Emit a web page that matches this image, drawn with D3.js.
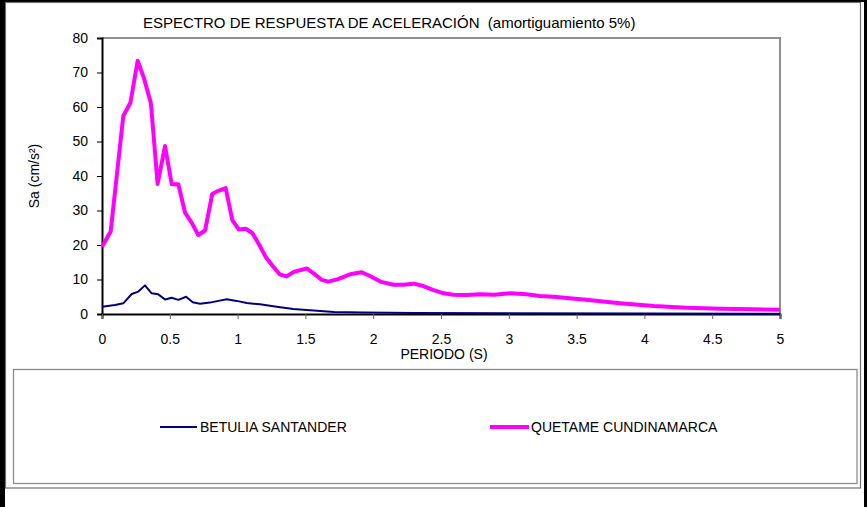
<!DOCTYPE html>
<html><head><meta charset="utf-8">
<script src="https://cdn.jsdelivr.net/npm/d3@7"></script>
<style>html,body{margin:0;padding:0;background:#fff;}svg{display:block;font-family:"Liberation Sans",Arial,sans-serif;}</style>
</head><body>
<script>
const titleText = "ESPECTRO DE RESPUESTA DE ACELERACIÓN  (amortiguamiento 5%)";
const xLabel = "PERIODO (S)";
const yLabel = "Sa (cm/s²)";
const seriesNames = ["BETULIA SANTANDER", "QUETAME CUNDINAMARCA"];
const xTicks = [0, 0.5, 1, 1.5, 2, 2.5, 3, 3.5, 4, 4.5, 5];
const yTicks = [0, 10, 20, 30, 40, 50, 60, 70, 80];

const betuliaPeriod = [0,0.096,0.157,0.219,0.268,0.317,0.366,0.415,0.465,0.514,0.563,0.62,0.669,0.723,0.796,0.858,0.92,0.993,1.067,1.165,1.288,1.41,1.56,1.71,1.93,2.3,3,4,5];
const betuliaSa    = [2.1,2.6,3.1,5.8,6.5,8.3,6,5.7,4.2,4.7,4.1,5,3.4,3,3.3,3.8,4.3,3.8,3.2,2.8,2.1,1.45,1.0,0.6,0.45,0.3,0.2,0.12,0.08];

const quetamePeriod = [0,0.064,0.157,0.21,0.263,0.31,0.361,0.41,0.465,0.514,0.563,0.612,0.661,0.71,0.76,0.813,0.858,0.912,0.961,1.01,1.06,1.11,1.16,1.21,1.263,1.31,1.36,1.42,1.51,1.56,1.62,1.67,1.74,1.83,1.915,1.976,2.06,2.15,2.22,2.3,2.37,2.44,2.52,2.59,2.69,2.79,2.89,3.01,3.13,3.23,3.33,3.57,3.82,4.07,4.31,4.56,4.8,5];
const quetameSa    = [19.5,23.9,57.4,61.3,73.4,68.3,61,37.7,48.7,37.6,37.6,29.4,26.5,22.9,24.2,34.8,35.7,36.5,27.2,24.5,24.7,23.4,20,16.4,13.7,11.5,10.9,12.3,13.2,11.8,9.9,9.4,10.1,11.5,12.1,11,9.3,8.5,8.5,8.8,8.1,7,6,5.6,5.5,5.7,5.6,6,5.7,5.2,5.0,4.1,3.1,2.3,1.8,1.5,1.35,1.2];

const W = 867, H = 507;
const svg = d3.select("body").append("svg").attr("width", W).attr("height", H);

// outer frame
svg.append("rect").attr("x",0).attr("y",0).attr("width",W).attr("height",H).attr("fill","#fff");
svg.append("rect").attr("x",0).attr("y",0).attr("width",5).attr("height",H).attr("fill","#000");
svg.append("rect").attr("x",864).attr("y",0).attr("width",3).attr("height",H).attr("fill","#000");
svg.append("rect").attr("x",0).attr("y",0).attr("width",W).attr("height",2).attr("fill","#000");
svg.append("rect").attr("x",5.5).attr("y",2.5).attr("width",855).attr("height",485.5)
  .attr("fill","none").attr("stroke","#707070").attr("stroke-width",1.2);

// legend box
svg.append("rect").attr("x",13.5).attr("y",369.5).attr("width",843.5).attr("height",114)
  .attr("fill","none").attr("stroke","#8c8c8c").attr("stroke-width",1.3);

const pL = 102, pR = 780, pT = 38, pB = 314;
const x = d3.scaleLinear().domain([0,5]).range([pL,pR]);
const y = d3.scaleLinear().domain([0,80]).range([pB,pT]);

// plot border (top, right)
svg.append("path").attr("d",`M${pL},${pT}H${pR}V${pB}`).attr("fill","none")
  .attr("stroke","#909090").attr("stroke-width",2);

const fs = 14;
// y axis
const yAxis = svg.append("g").attr("transform",`translate(${pL},0)`)
  .call(d3.axisLeft(y).tickValues(yTicks).tickSize(5).tickPadding(9).tickFormat(d3.format("d")));
yAxis.select(".domain").attr("stroke","#000").attr("stroke-width",2);
yAxis.selectAll(".tick line").attr("stroke","#000");
yAxis.selectAll("text").attr("font-size",fs).attr("font-family","Liberation Sans, Arial, sans-serif").attr("fill","#000");

// x axis
const xAxis = svg.append("g").attr("transform",`translate(0,${pB})`)
  .call(d3.axisBottom(x).tickValues(xTicks).tickSize(5).tickPadding(15).tickFormat(d => String(d)));
xAxis.select(".domain").attr("stroke","#000").attr("stroke-width",2);
xAxis.selectAll(".tick line").attr("stroke","#666");
xAxis.selectAll("text").attr("font-size",fs).attr("font-family","Liberation Sans, Arial, sans-serif").attr("fill","#000");

// lines
const line = d3.line().x(d => x(d[0])).y(d => y(d[1]));
svg.append("path").datum(betuliaPeriod.map((p,i)=>[p,betuliaSa[i]]))
  .attr("d",line).attr("fill","none").attr("stroke","#000080").attr("stroke-width",2).attr("stroke-linejoin","round");
svg.append("path").datum(quetamePeriod.map((p,i)=>[p,quetameSa[i]]))
  .attr("d",line).attr("fill","none").attr("stroke","#ff00ff").attr("stroke-width",4).attr("stroke-linejoin","round");

// title & labels
svg.append("text").attr("x",143).attr("y",28).attr("font-size",15).attr("fill","#000")
  .attr("xml:space","preserve").style("white-space","pre").text(titleText);
svg.append("text").attr("x",444).attr("y",359).attr("text-anchor","middle").attr("font-size",fs).attr("fill","#000").text(xLabel);
svg.append("text").attr("transform",`translate(39,176) rotate(-90)`).attr("text-anchor","middle").attr("font-size",fs).attr("fill","#000").text(yLabel);

// legend
const lg = svg.append("g");
lg.append("line").attr("x1",160).attr("x2",197).attr("y1",427).attr("y2",427).attr("stroke","#000080").attr("stroke-width",2);
lg.append("text").attr("x",200).attr("y",432).attr("font-size",fs).attr("fill","#000").text(seriesNames[0]);
lg.append("line").attr("x1",490).attr("x2",529).attr("y1",427).attr("y2",427).attr("stroke","#ff00ff").attr("stroke-width",4);
lg.append("text").attr("x",531).attr("y",432).attr("font-size",fs).attr("fill","#000").text(seriesNames[1]);
</script>
</body></html>
